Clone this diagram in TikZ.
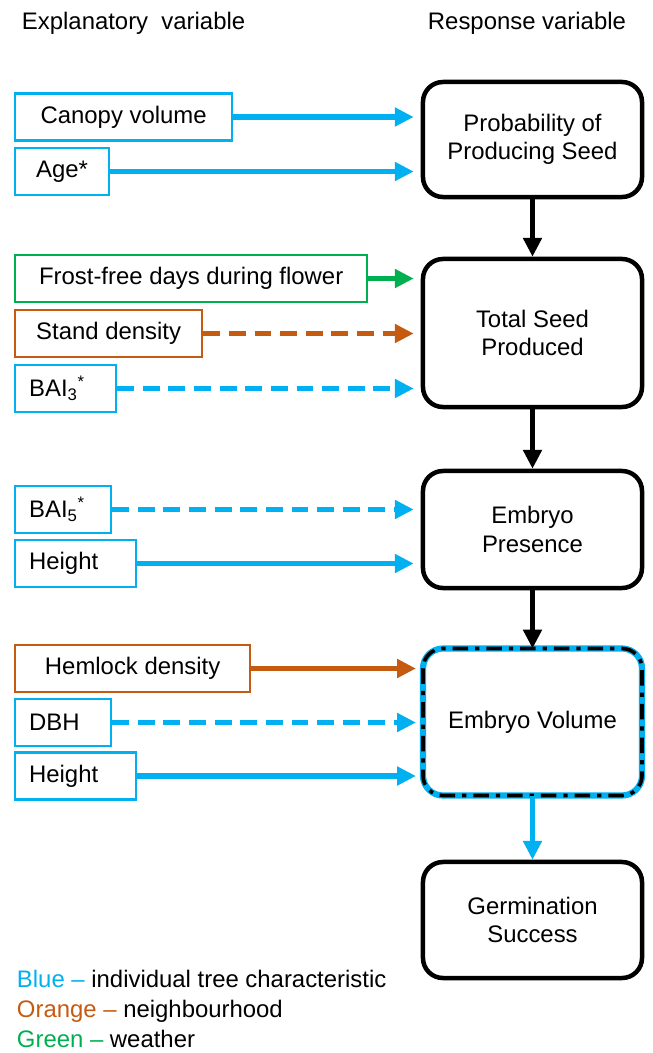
\documentclass[tikz,border=0pt]{standalone}
\usepackage{fontspec}
\setmainfont{Liberation Sans}
\usetikzlibrary{arrows.meta}
\definecolor{treeblue}{RGB}{0,176,240}
\definecolor{nborange}{RGB}{197,90,17}
\definecolor{wxgreen}{RGB}{0,176,80}
\tikzset{
	every node/.style={font=\fontsize{17pt}{20pt}\selectfont},
	expl/.style={draw, line width=1.6pt, anchor=west, minimum height=1.175cm, inner xsep=0.3cm},
	padl/.style={align=left, inner xsep=0.35cm},
	resp/.style={draw, line width=3.2pt, rounded corners=0.5cm, minimum width=5.475cm, align=center},
	link/.style={line width=3.6pt, -{Triangle[length=0.47cm,width=0.45cm]}},
	dashlink/.style={link, dash pattern=on 0.42cm off 0.22cm},
}

\begin{document}
\begin{tikzpicture}[x=0.025cm, y=-0.025cm]
		%%%%% START %%%%%
		\useasboundingbox (0,0) rectangle (652,1053);
		
		\node[anchor=base west] (explhead) at (17,29) {Explanatory~ variable};
		\node[anchor=base west] (resphead) at (423,29) {Response variable};
		
		% response column
		\node[resp, minimum height=2.875cm] (prob) at (532.5,139.5) {Probability of\\Producing Seed};
		\node[resp, minimum height=3.7cm] (total) at (532.5,333) {Total Seed\\Produced};
		\node[resp, minimum height=2.925cm] (presence) at (532.5,529.5) {Embryo\\Presence};
		\node[resp, minimum height=3.675cm, draw=treeblue, line width=4.4pt, outer sep=0pt] (volume) at (532.5,722) {Embryo Volume};
		\draw[line width=2.6pt, rounded corners=0.5cm, dash pattern=on 11pt off 5pt on 3pt off 5pt] (volume.north west) rectangle (volume.south east);
		\node[resp, minimum height=2.9cm] (germ) at (532.5,920) {Germination\\Success};
		
		\draw[link] (prob) -- (total);
		\draw[link] (total) -- (presence);
		\draw[link] (presence) -- (volume);
		\draw[link, treeblue] (volume) -- (germ);
		
		% explanatory column
		\node[expl, draw=treeblue, minimum width=5.425cm] (canopy) at (14,117) {Canopy volume};
		\node[expl, draw=treeblue, minimum width=2.35cm] (age) at (14,171.5) {Age*};
		
		\node[expl, draw=wxgreen, minimum width=8.8cm] (frost) at (14,278.5) {Frost-free days during flower};
		\node[expl, draw=nborange, minimum width=4.675cm] (stand) at (14,333.5) {Stand density};
		\node[expl, padl, draw=treeblue, text width=1.825cm] (baithree) at (14,388.5) {BAI\textsubscript{3}\textsuperscript{*}};
		
		\node[expl, padl, draw=treeblue, text width=1.7cm] (baifive) at (14,509.5) {BAI\textsubscript{5}\textsuperscript{*}};
		\node[expl, padl, draw=treeblue, text width=2.325cm] (heighta) at (14,563.5) {Height};
		
		\node[expl, draw=nborange, minimum width=5.875cm] (hemlock) at (14,668.5) {Hemlock density};
		\node[expl, padl, draw=treeblue, text width=1.7cm] (dbh) at (14,722.5) {DBH};
		\node[expl, padl, draw=treeblue, text width=2.325cm] (heightb) at (14,776) {Height};
		
		\draw[link, treeblue, shorten >=5pt] (canopy.east) -- (canopy.east -| prob.west);
		\draw[link, treeblue, shorten >=5pt] (age.east) -- (age.east -| prob.west);
		\draw[link, wxgreen, shorten >=5pt] (frost.east) -- (frost.east -| total.west);
		\draw[dashlink, nborange, shorten >=5pt] (stand.east) -- (stand.east -| total.west);
		\draw[dashlink, treeblue, shorten >=5pt] (baithree.east) -- (baithree.east -| total.west);
		\draw[dashlink, treeblue, shorten >=5pt] (baifive.east) -- (baifive.east -| presence.west);
		\draw[link, treeblue, shorten >=5pt] (heighta.east) -- (heighta.east -| presence.west);
		\draw[link, nborange, shorten >=5pt] (hemlock.east) -- (hemlock.east -| volume.west);
		\draw[dashlink, treeblue, shorten >=5pt] (dbh.east) -- (dbh.east -| volume.west);
		\draw[link, treeblue, shorten >=5pt] (heightb.east) -- (heightb.east -| volume.west);
		
		% key
		\node[anchor=base west] (keyblue) at (12,987) {\textcolor{treeblue}{Blue –} individual tree characteristic};
		\node[anchor=base west] (keyorange) at (12,1017) {\textcolor{nborange}{Orange –} neighbourhood};
		\node[anchor=base west] (keygreen) at (12,1047) {\textcolor{wxgreen}{Green –} weather};
		
		%%%%% END %%%%%
	\end{tikzpicture}
\end{document}
